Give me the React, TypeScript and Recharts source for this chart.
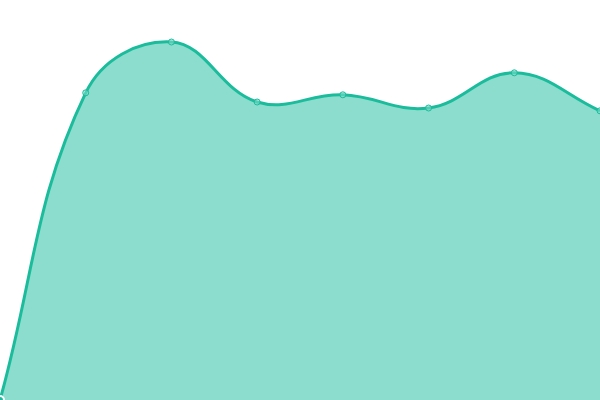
import React from 'react';
import { AreaChart, Area, XAxis, YAxis } from 'recharts';

const labels = ['1', '2', '3', '4', '5', '6', '7', '8'];
const values = [0, 76.8, 89.5, 74.5, 76.3, 73, 81.8, 72.3];

const data = labels.map((name, i) => ({ name, value: values[i] }));

// spline with tension 0.4 through every point (d3 curve factory shape)
const TENSION = 0.4;

const splineCurve = (context: any) => {
  let line = NaN;
  let pts: [number, number][] = [];

  const draw = () => {
    if (!pts.length) return;
    const n = pts.length;
    const cps = pts.map((cur, i) => {
      const prev = pts[i - 1] || cur;
      const next = pts[i + 1] || cur;
      const d01 = Math.hypot(cur[0] - prev[0], cur[1] - prev[1]);
      const d12 = Math.hypot(next[0] - cur[0], next[1] - cur[1]);
      let s01 = d01 / (d01 + d12);
      let s12 = d12 / (d01 + d12);
      if (isNaN(s01)) s01 = 0;
      if (isNaN(s12)) s12 = 0;
      const fa = TENSION * s01;
      const fb = TENSION * s12;
      const dx = next[0] - prev[0];
      const dy = next[1] - prev[1];
      return {
        prev: [cur[0] - fa * dx, cur[1] - fa * dy],
        next: [cur[0] + fb * dx, cur[1] + fb * dy],
      };
    });
    if (line) context.lineTo(pts[0][0], pts[0][1]);
    else context.moveTo(pts[0][0], pts[0][1]);
    for (let i = 1; i < n; i++) {
      const a = cps[i - 1].next;
      const b = cps[i].prev;
      context.bezierCurveTo(a[0], a[1], b[0], b[1], pts[i][0], pts[i][1]);
    }
  };

  return {
    areaStart() {
      line = 0;
    },
    areaEnd() {
      line = NaN;
    },
    lineStart() {
      pts = [];
    },
    lineEnd() {
      draw();
      if (line || (line !== 0 && pts.length === 1)) context.closePath();
      line = 1 - line;
    },
    point(x: number, y: number) {
      pts.push([+x, +y]);
    },
  };
};

const App: React.FC = () => {
  return (
    <div style={{ position: 'absolute', top: 0, left: 0, width: 600, height: 400 }}>
      <AreaChart width={600} height={400} data={data} margin={{ top: 0, right: 0, bottom: 0, left: 0 }}>
        <XAxis dataKey="name" hide />
        <YAxis hide domain={[0, 100]} />
        <Area
          type={splineCurve as any}
          dataKey="value"
          stroke="#1abc9c"
          strokeWidth={3}
          fill="#1abc9c"
          fillOpacity={0.5}
          dot={{ r: 3, fill: '#8ce0d0', stroke: '#1abc9c', strokeWidth: 1 }}
          isAnimationActive={false}
        />
      </AreaChart>
    </div>
  );
};

export default App;
